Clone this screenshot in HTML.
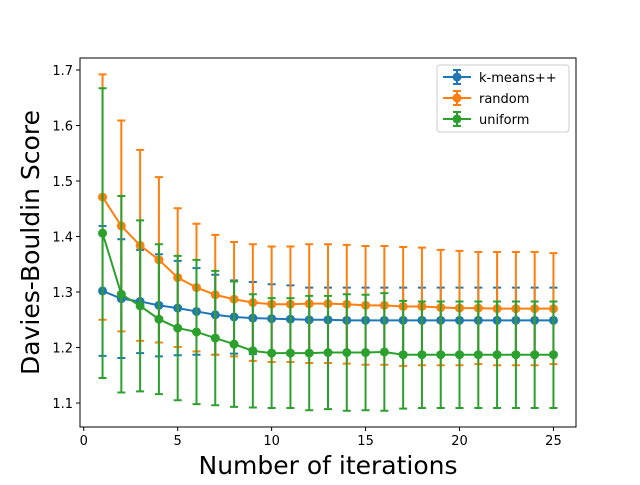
<!DOCTYPE html>
<html><head><meta charset="utf-8"><style>
body{margin:0;background:#fff}
svg text{font-family:"DejaVu Sans","Liberation Sans",sans-serif}
</style></head><body>
<svg id="chart" width="640" height="480" xmlns="http://www.w3.org/2000/svg">
<rect x="0" y="0" width="640" height="480" fill="#fff"/>
<g id="plot"></g>
</svg>
<script>
const iterations=[1,2,3,4,5,6,7,8,9,10,11,12,13,14,15,16,17,18,19,20,21,22,23,24,25];
const kmMean=[1.302,1.288,1.283,1.276,1.271,1.265,1.259,1.255,1.253,1.252,1.251,1.250,1.250,1.249,1.249,1.249,1.249,1.249,1.249,1.249,1.249,1.249,1.249,1.249,1.249];
const kmStd=[0.117,0.107,0.093,0.092,0.085,0.078,0.072,0.066,0.065,0.062,0.061,0.058,0.058,0.059,0.059,0.059,0.059,0.059,0.059,0.059,0.059,0.059,0.059,0.059,0.059];
const rnMean=[1.471,1.419,1.384,1.358,1.326,1.308,1.295,1.287,1.281,1.278,1.278,1.279,1.279,1.278,1.276,1.276,1.274,1.274,1.272,1.271,1.271,1.270,1.270,1.270,1.270];
const rnStd=[0.221,0.190,0.172,0.149,0.125,0.115,0.108,0.103,0.105,0.104,0.104,0.107,0.107,0.107,0.107,0.107,0.107,0.106,0.104,0.103,0.101,0.102,0.102,0.102,0.100];
const unMean=[1.406,1.296,1.275,1.251,1.235,1.228,1.217,1.206,1.194,1.190,1.190,1.190,1.191,1.191,1.191,1.192,1.187,1.187,1.187,1.187,1.187,1.187,1.187,1.187,1.187];
const unStd=[0.261,0.177,0.154,0.135,0.130,0.130,0.121,0.113,0.102,0.099,0.099,0.103,0.102,0.105,0.104,0.106,0.097,0.096,0.096,0.096,0.096,0.096,0.096,0.096,0.096];
const xTicks=[0,5,10,15,20,25];
const yTicks=[1.1,1.2,1.3,1.4,1.5,1.6,1.7];
const seriesNames=["k-means++","random","uniform"];

const L=80,R=576,T=58,B=427;
const xMin=-0.2,xMax=26.2,yMin=1.0568,yMax=1.7216;
const X=v=>L+(v-xMin)/(xMax-xMin)*(R-L);
const Y=v=>B-(v-yMin)/(yMax-yMin)*(B-T);
const NS="http://www.w3.org/2000/svg";
const g=document.getElementById('plot');
function el(t,a,p){const e=document.createElementNS(NS,t);for(const k in a)e.setAttribute(k,a[k]);(p||g).appendChild(e);return e;}

const series=[[kmMean,kmStd,"#1f77b4"],[rnMean,rnStd,"#ff7f0e"],[unMean,unStd,"#2ca02c"]];
series.forEach((s,si)=>{
  const [m,sd,c]=s;
  const grp=el('g',{});
  
  
  iterations.forEach((x,i)=>{
    const px=X(x),y1=Y(m[i]+sd[i]),y2=Y(m[i]-sd[i]);
    const b=el('path',{d:`M${px},${y1}V${y2}M${px-4},${y1}H${px+4}M${px-4},${y2}H${px+4}`,stroke:c,'stroke-width':2,fill:'none'},grp);
    
    
  });
  const ln=el('polyline',{points:iterations.map((x,i)=>X(x)+','+Y(m[i])).join(' '),stroke:c,'stroke-width':2,fill:'none'},grp);
  
  
  iterations.forEach((x,i)=>{
    const p=el('circle',{cx:X(x),cy:Y(m[i]),r:4.5,fill:c},grp);
    
    
  });
});

const frame=el('rect',{x:L,y:T,width:R-L,height:B-T,fill:'none',stroke:'#000','stroke-width':1});


xTicks.forEach(v=>{
  const px=X(v);
  const t=el('line',{x1:px,x2:px,y1:B,y2:B+4,stroke:'#000'});
  
  
  const tx=el('text',{x:px,y:B+18,'font-size':13,'text-anchor':'middle'});
  tx.textContent=v;
  
  
});
yTicks.forEach(v=>{
  const py=Y(v);
  const t=el('line',{x1:L-4,x2:L,y1:py,y2:py,stroke:'#000'});
  
  
  const tx=el('text',{x:L-7,y:py+5,'font-size':13,'text-anchor':'end'});
  tx.textContent=v.toFixed(1);
  
  
});
const xt=el('text',{x:(L+R)/2,y:474,'font-size':25,'text-anchor':'middle',textLength:259,lengthAdjust:'spacingAndGlyphs'});
xt.textContent='Number of iterations';


const yt=el('text',{x:0,y:0,'font-size':25,'text-anchor':'middle',textLength:265,lengthAdjust:'spacingAndGlyphs',transform:`translate(39,${(T+B)/2}) rotate(-90)`});
yt.textContent='Davies-Bouldin Score';



const lg=el('g',{});


el('rect',{x:437,y:65,width:132,height:67,rx:3,fill:'#fff',stroke:'#ccc'},lg);
seriesNames.forEach((n,i)=>{
  const y=77+i*21,c=series[i][2];
  const e=el('g',{},lg);
  
  
  el('path',{d:`M443,${y}H471M457,${y-7}V${y+7}M453,${y-7}H461M453,${y+7}H461`,stroke:c,'stroke-width':2,fill:'none'},e);
  el('circle',{cx:457,cy:y,r:4.5,fill:c},e);
  const t=el('text',{x:479,y:y+5,'font-size':13},e);
  t.textContent=n;
});
</script>
</body></html>
